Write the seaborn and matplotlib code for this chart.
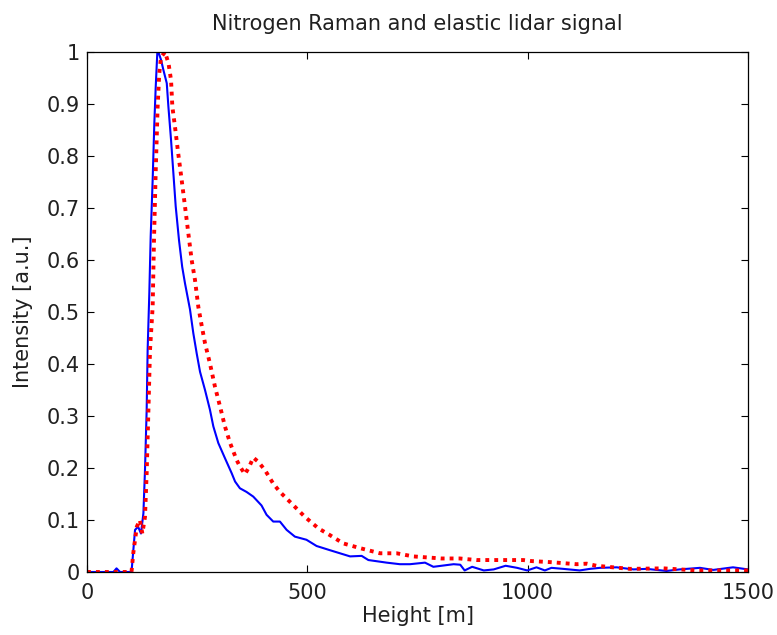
import numpy as np
import pandas as pd
import matplotlib
matplotlib.use("Agg")
import matplotlib.pyplot as plt
import seaborn as sns

# Elastic signal (blue, solid)
elastic_height = [0, 40, 60, 67, 75, 95, 101, 109, 116, 122.5, 128, 131.6, 135.4, 137.6, 141.4,
                  144.5, 149, 152.8, 155.8, 159.6, 162, 168, 173.2, 181, 184.7, 190.7, 196,
                  201.3, 208.8, 216, 222.4, 233.7, 241.3, 249, 256.5, 267.8, 279, 286.7, 298,
                  313, 328.3, 336, 347, 362, 377.3, 396, 407.5, 422.6, 437.8, 453, 471.8, 498,
                  521, 551, 574, 597, 623.3, 638.5, 680, 710, 733, 767, 786, 832, 847, 857,
                  874, 900.5, 923, 950, 976, 999, 1020, 1039, 1054, 1081, 1118, 1141, 1164,
                  1202, 1240, 1270, 1315, 1345, 1391, 1421, 1466, 1500]
elastic_value = [0.0, 0.0, 0.0, 0.007, 0.0, 0.0, 0.0, 0.081, 0.087, 0.074, 0.113, 0.196, 0.312,
                 0.427, 0.536, 0.645, 0.754, 0.863, 0.93, 1.0, 1.0, 0.985, 0.966, 0.94, 0.895,
                 0.831, 0.767, 0.703, 0.638, 0.587, 0.555, 0.505, 0.459, 0.42, 0.385, 0.35,
                 0.312, 0.28, 0.248, 0.219, 0.19, 0.174, 0.161, 0.154, 0.145, 0.128, 0.11,
                 0.097, 0.097, 0.081, 0.068, 0.062, 0.05, 0.042, 0.036, 0.03, 0.031, 0.023,
                 0.018, 0.015, 0.015, 0.018, 0.01, 0.015, 0.014, 0.003, 0.01, 0.003, 0.005,
                 0.012, 0.008, 0.003, 0.009, 0.003, 0.008, 0.006, 0.003, 0.006, 0.008, 0.009,
                 0.005, 0.006, 0.002, 0.005, 0.008, 0.004, 0.009, 0.005]

# Nitrogen Raman signal (red, dotted)
raman_height = [0, 60, 101, 105, 113, 120, 125.6, 131.6, 135.4, 139, 143, 149, 152, 155.8,
                160.3, 164, 168, 177, 185, 190.7, 193.7, 199.7, 207, 214.8, 222.4, 230, 237.5,
                245, 252.6, 260, 267.8, 279, 290.5, 302, 313, 324.7, 339.8, 347, 358.5, 368.5,
                377.3, 388.6, 403.8, 422.6, 437.8, 464, 494.5, 525, 551, 581.5, 619, 665,
                702.7, 740, 804.6, 846, 884, 967, 990, 1009, 1051, 1111, 1134, 1156, 1194,
                1232, 1308, 1383, 1444, 1500]
raman_value = [0.0, 0.0, 0.0, 0.036, 0.087, 0.1, 0.074, 0.106, 0.19, 0.3, 0.427, 0.51, 0.638,
               0.767, 0.895, 0.959, 0.99, 1.0, 0.978, 0.946, 0.895, 0.856, 0.805, 0.754, 0.703,
               0.651, 0.6, 0.562, 0.51, 0.475, 0.44, 0.401, 0.356, 0.318, 0.28, 0.248, 0.215,
               0.203, 0.188, 0.203, 0.22, 0.212, 0.196, 0.17, 0.154, 0.132, 0.106, 0.084,
               0.071, 0.055, 0.046, 0.036, 0.036, 0.03, 0.026, 0.026, 0.023, 0.023, 0.023,
               0.021, 0.019, 0.015, 0.016, 0.012, 0.009, 0.006, 0.007, 0.003, 0.003, 0.003]

x_ticks = [0, 500, 1000, 1500]
y_ticks = [0, 0.1, 0.2, 0.3, 0.4, 0.5, 0.6, 0.7, 0.8, 0.9, 1]
y_tick_labels = ["0", "0.1", "0.2", "0.3", "0.4", "0.5", "0.6", "0.7", "0.8", "0.9", "1"]

sns.set_style("white")
plt.rcParams['font.family'] = ['DejaVu Sans']

TXT = "#202020"
FS = 15

fig = plt.figure(figsize=(7.77, 6.35), dpi=100)
ax = fig.add_axes([87 / 777, 1 - 572 / 635, 661 / 777, 520 / 635])

df_e = pd.DataFrame({"Height": elastic_height, "Intensity": elastic_value})
df_r = pd.DataFrame({"Height": raman_height, "Intensity": raman_value})

sns.lineplot(data=df_e, x="Height", y="Intensity", ax=ax, color="#0000ff",
             linewidth=1.5, estimator=None, sort=False)
sns.lineplot(data=df_r, x="Height", y="Intensity", ax=ax, color="#ff0000",
             linewidth=2.8, estimator=None, sort=False, dashes=False)
ax.lines[-1].set_dashes((1, 1.3))
ax.lines[-1].set_dash_capstyle("butt")

ax.set_xlim(0, 1500)
ax.set_ylim(0, 1)
ax.set_xticks(x_ticks)
ax.set_xticklabels([str(t) for t in x_ticks])
ax.set_yticks(y_ticks)
ax.set_yticklabels(y_tick_labels)
ax.tick_params(direction="in", length=5, width=0.8, colors="black", labelsize=FS,
               labelcolor=TXT, top=True, right=True, bottom=True, left=True)
ax.tick_params(axis="x", pad=8)
ax.tick_params(axis="y", pad=5)
for s in ax.spines.values():
    s.set_color("black")
    s.set_linewidth(0.9)

ax.set_xlabel("Height [m]", fontsize=FS, labelpad=2, color=TXT)
ax.set_ylabel("Intensity [a.u.]", fontsize=FS, labelpad=10, color=TXT)
ax.set_title("Nitrogen Raman and elastic lidar signal", fontsize=FS, pad=16, color=TXT)

fig.savefig("out.png", dpi=100, facecolor="white")
